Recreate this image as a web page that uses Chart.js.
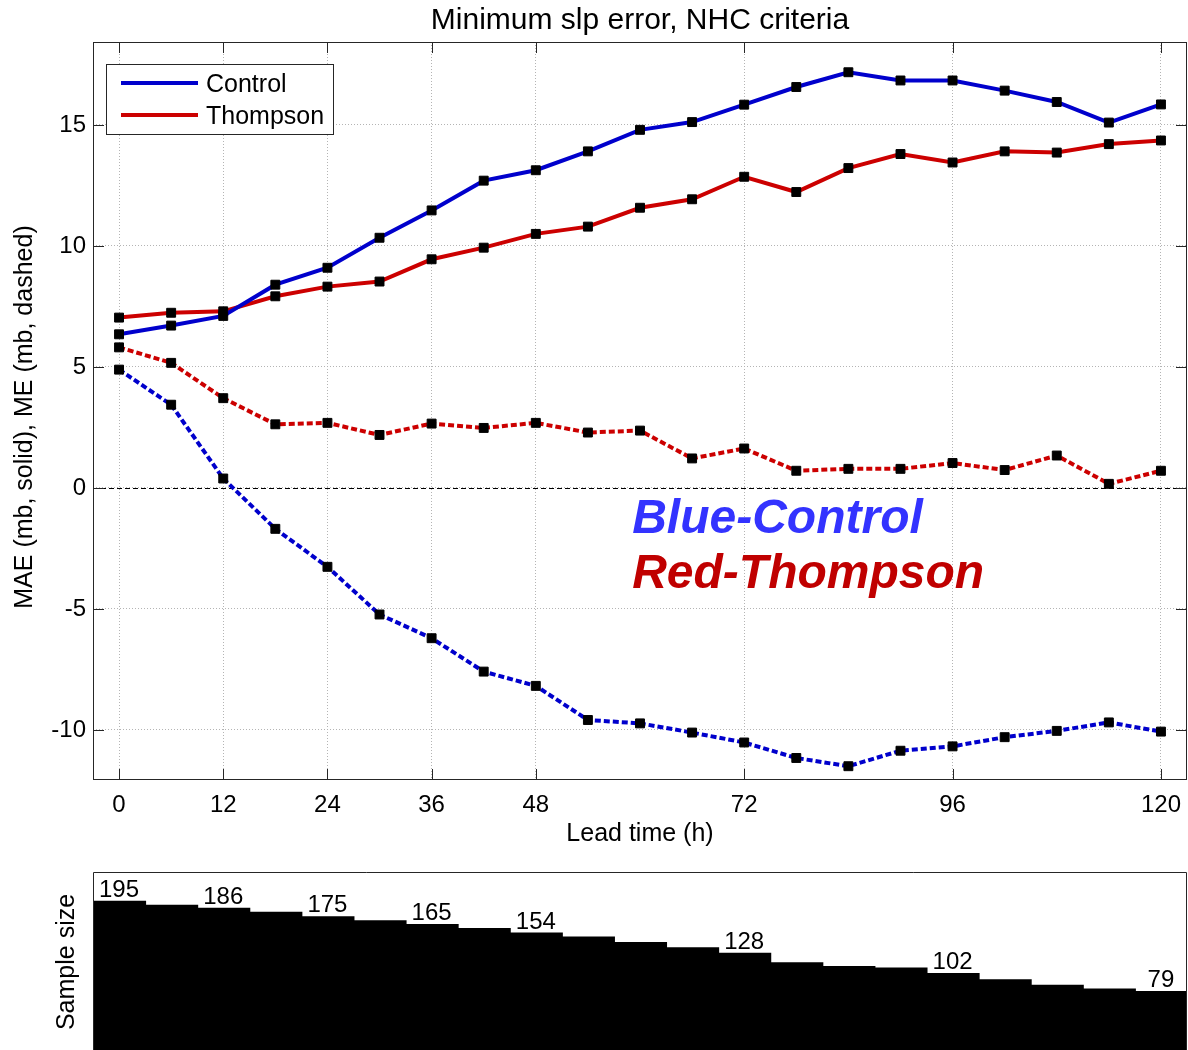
<!DOCTYPE html>
<html>
<head>
<meta charset="utf-8">
<title>Minimum slp error, NHC criteria</title>
<script src="https://cdn.jsdelivr.net/npm/chart.js@4.4.0/dist/chart.umd.min.js"></script>
<style>
    html, body { margin: 0; padding: 0; background: #fff; }
    #contenedor { position: relative; width: 1188px; height: 1050px; overflow: hidden; }
    canvas { position: absolute; left: 0; }
    #graficaError { top: 0; }
    #graficaMuestra { top: 850px; }
</style>
</head>
<body>
<div id="contenedor">
    <canvas id="graficaError" width="1188" height="850"></canvas>
    <canvas id="graficaMuestra" width="1188" height="200"></canvas>
</div>
<script>
// --- Datos ---
const horas = [0, 6, 12, 18, 24, 30, 36, 42, 48, 54, 60, 66, 72, 78, 84, 90, 96, 102, 108, 114, 120];

// MAE (solid)
const controlMAE = [6.35, 6.71, 7.11, 8.40, 9.10, 10.34, 11.47, 12.70, 13.13, 13.91, 14.80, 15.12, 15.84, 16.57, 17.18, 16.84, 16.84, 16.42, 15.95, 15.10, 15.85];
const thompsonMAE = [7.04, 7.24, 7.30, 7.92, 8.32, 8.53, 9.45, 9.93, 10.50, 10.80, 11.58, 11.93, 12.86, 12.23, 13.22, 13.80, 13.45, 13.91, 13.86, 14.21, 14.36];

// ME (dashed)
const controlME = [4.89, 3.44, 0.39, -1.69, -3.26, -5.23, -6.21, -7.59, -8.18, -9.59, -9.73, -10.11, -10.52, -11.16, -11.50, -10.86, -10.68, -10.30, -10.04, -9.69, -10.07];
const thompsonME = [5.81, 5.17, 3.71, 2.63, 2.69, 2.19, 2.66, 2.48, 2.69, 2.29, 2.37, 1.22, 1.63, 0.71, 0.79, 0.79, 1.03, 0.74, 1.34, 0.17, 0.71];

// Tamaño de muestra por hora
const tamMuestra = [195, 190, 186, 181, 175, 170, 165, 160, 154, 149, 142, 135, 128, 116, 111, 109, 102, 94, 87, 82, 79];
const horasConEtiqueta = [0, 12, 24, 36, 48, 72, 96, 120];

const ticksX = [0, 12, 24, 36, 48, 72, 96, 120];
const ticksY = [-10, -5, 0, 5, 10, 15];

const titulo = 'Minimum slp error, NHC criteria';
const etiquetaX = 'Lead time (h)';
const etiquetaY = 'MAE (mb, solid), ME (mb, dashed)';
const etiquetaMuestra = 'Sample size';
const notas = [
    { texto: 'Blue-Control', x: 59.1, y: -1.86, color: '#3333FF' },
    { texto: 'Red-Thompson', x: 59.1, y: -4.13, color: '#C00000' }
];

const FUENTE = '"Liberation Sans", Arial, Helvetica, sans-serif';
const AZUL = '#0000CC';
const ROJO = '#CC0000';

function puntos(valores) {
    return horas.map((h, i) => ({ x: h, y: valores[i] }));
}

function serie(label, valores, color, discontinua) {
    return {
        label: label,
        data: puntos(valores),
        borderColor: color,
        borderWidth: 4,
        borderDash: discontinua ? [6, 3] : [],
        tension: 0,
        pointStyle: 'rect',
        pointRadius: 6.3,
        pointBackgroundColor: '#000',
        pointBorderColor: '#000',
        pointBorderWidth: 1,
        enLeyenda: !discontinua
    };
}

// --- Ejes tipo MATLAB: marco, ticks hacia dentro, textos y leyenda ---
const ejesMatlab = {
    id: 'ejesMatlab',
    beforeDatasetsDraw(chart) {
        const { ctx, chartArea: a, scales: { y } } = chart;
        const y0 = Math.round(y.getPixelForValue(0)) + 0.5;
        ctx.save();
        ctx.strokeStyle = '#000';
        ctx.lineWidth = 1;
        ctx.setLineDash([5, 3]);
        ctx.beginPath();
        ctx.moveTo(a.left, y0);
        ctx.lineTo(a.right, y0);
        ctx.stroke();
        ctx.restore();
    },
    afterDraw(chart) {
        const { ctx, chartArea: a, scales: { x, y } } = chart;
        ctx.save();

        // marco
        ctx.strokeStyle = '#262626';
        ctx.lineWidth = 1;
        ctx.strokeRect(a.left + 0.5, a.top + 0.5, a.right - a.left - 1, a.bottom - a.top - 1);

        // ticks hacia dentro
        ctx.beginPath();
        ticksX.forEach(v => {
            const px = Math.round(x.getPixelForValue(v)) + 0.5;
            ctx.moveTo(px, a.bottom); ctx.lineTo(px, a.bottom - 11);
            ctx.moveTo(px, a.top); ctx.lineTo(px, a.top + 11);
        });
        ticksY.forEach(v => {
            const py = Math.round(y.getPixelForValue(v)) + 0.5;
            ctx.moveTo(a.left, py); ctx.lineTo(a.left + 11, py);
            ctx.moveTo(a.right, py); ctx.lineTo(a.right - 11, py);
        });
        ctx.stroke();

        // textos
        ctx.fillStyle = '#000';
        ctx.textAlign = 'center';
        ctx.textBaseline = 'middle';
        ctx.font = `30px ${FUENTE}`;
        ctx.fillText(titulo, (a.left + a.right) / 2, 21);
        ctx.font = `25px ${FUENTE}`;
        ctx.fillText(etiquetaX, (a.left + a.right) / 2, 834);
        ctx.save();
        ctx.translate(25, 417);
        ctx.rotate(-Math.PI / 2);
        ctx.fillText(etiquetaY, 0, 0);
        ctx.restore();

        // notas
        ctx.font = `bold italic 48px ${FUENTE}`;
        ctx.textAlign = 'left';
        ctx.textBaseline = 'alphabetic';
        notas.forEach(n => {
            ctx.fillStyle = n.color;
            ctx.fillText(n.texto, x.getPixelForValue(n.x), y.getPixelForValue(n.y));
        });

        // leyenda
        const lx = a.left + 13, ly = a.top + 22, lw = 227, lh = 70;
        ctx.fillStyle = '#fff';
        ctx.fillRect(lx, ly, lw, lh);
        ctx.strokeStyle = '#262626';
        ctx.lineWidth = 1;
        ctx.strokeRect(lx + 0.5, ly + 0.5, lw, lh);
        const entradas = chart.data.datasets.filter(d => d.enLeyenda);
        ctx.font = `25px ${FUENTE}`;
        ctx.textBaseline = 'middle';
        entradas.forEach((d, i) => {
            const cy = ly + 19 + i * 32;
            ctx.strokeStyle = d.borderColor;
            ctx.lineWidth = 4;
            ctx.beginPath();
            ctx.moveTo(lx + 15, cy);
            ctx.lineTo(lx + 92, cy);
            ctx.stroke();
            ctx.fillStyle = '#000';
            ctx.fillText(d.label, lx + 100, cy + 2);
        });
        ctx.restore();
    }
};

// --- Gráfica principal ---
function graficaError() {
    const ctx = document.getElementById('graficaError').getContext('2d');
    return new Chart(ctx, {
        type: 'line',
        data: {
            datasets: [
                serie('Control', controlMAE, AZUL, false),
                serie('Thompson', thompsonMAE, ROJO, false),
                serie('Control ME', controlME, AZUL, true),
                serie('Thompson ME', thompsonME, ROJO, true)
            ]
        },
        options: {
            responsive: false,
            animation: false,
            layout: { autoPadding: false, padding: { top: 42, right: 1, left: 0, bottom: 0 } },
            plugins: { legend: { display: false }, tooltip: { enabled: false } },
            scales: {
                x: {
                    type: 'linear',
                    min: -3,
                    max: 123,
                    afterBuildTicks: s => { s.ticks = ticksX.map(v => ({ value: v })); },
                    afterFit: s => { s.height = 70; s.paddingLeft = 0; s.paddingRight = 0; },
                    grid: { color: '#b4b4b4', drawTicks: false },
                    border: { display: false, dash: [1, 2] },
                    ticks: { color: '#000', font: { family: FUENTE, size: 24 }, padding: 11, maxRotation: 0, autoSkip: false }
                },
                y: {
                    min: -12.07,
                    max: 18.43,
                    afterBuildTicks: s => { s.ticks = ticksY.map(v => ({ value: v })); },
                    afterFit: s => { s.width = 93; s.paddingTop = 0; s.paddingBottom = 0; },
                    grid: { color: '#b4b4b4', drawTicks: false },
                    border: { display: false, dash: [1, 2] },
                    ticks: { color: '#000', font: { family: FUENTE, size: 24 }, padding: 7 }
                }
            }
        },
        plugins: [ejesMatlab]
    });
}

// --- Gráfica de tamaño de muestra ---
const marcoMuestra = {
    id: 'marcoMuestra',
    afterDraw(chart) {
        const { ctx, chartArea: a, scales: { x, y } } = chart;
        ctx.save();
        ctx.strokeStyle = '#262626';
        ctx.lineWidth = 1;
        ctx.beginPath();
        ctx.moveTo(a.left + 0.5, a.bottom);
        ctx.lineTo(a.left + 0.5, a.top + 0.5);
        ctx.lineTo(a.right - 0.5, a.top + 0.5);
        ctx.lineTo(a.right - 0.5, a.bottom);
        ctx.stroke();

        ctx.fillStyle = '#000';
        ctx.font = `24px ${FUENTE}`;
        ctx.textAlign = 'center';
        ctx.textBaseline = 'alphabetic';
        horas.forEach((h, i) => {
            if (!horasConEtiqueta.includes(h)) return;
            ctx.fillText(String(tamMuestra[i]), x.getPixelForValue(h), y.getPixelForValue(tamMuestra[i]) - 5);
        });

        ctx.font = `25px ${FUENTE}`;
        ctx.textBaseline = 'middle';
        ctx.translate(67, 112);
        ctx.rotate(-Math.PI / 2);
        ctx.fillText(etiquetaMuestra, 0, 0);
        ctx.restore();
    }
};

function graficaMuestra() {
    const ctx = document.getElementById('graficaMuestra').getContext('2d');
    return new Chart(ctx, {
        type: 'bar',
        data: {
            datasets: [{
                label: etiquetaMuestra,
                data: puntos(tamMuestra),
                backgroundColor: '#000',
                borderWidth: 0,
                inflateAmount: 1,
                barPercentage: 1,
                categoryPercentage: 1
            }]
        },
        options: {
            responsive: false,
            animation: false,
            layout: { autoPadding: false, padding: { top: 22, right: 1, left: 93, bottom: 0 } },
            plugins: { legend: { display: false }, tooltip: { enabled: false } },
            scales: {
                x: {
                    type: 'linear',
                    min: -3,
                    max: 123,
                    offset: false,
                    display: false,
                    afterBuildTicks: s => { s.ticks = horas.map(v => ({ value: v })); }
                },
                y: { min: 4.2, max: 233.3, display: false }
            }
        },
        plugins: [marcoMuestra]
    });
}

// --- Inicializar ---
graficaError();
graficaMuestra();
</script>
</body>
</html>
